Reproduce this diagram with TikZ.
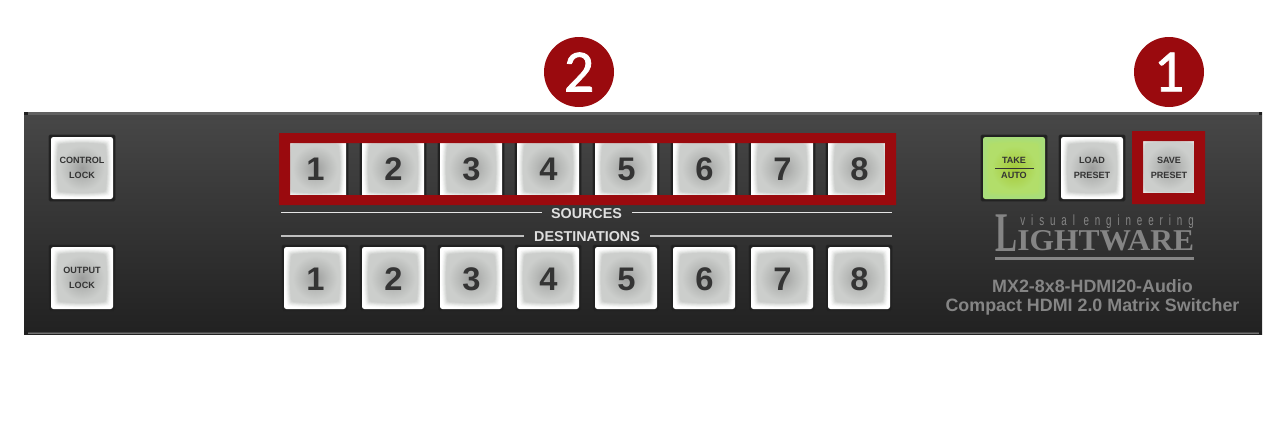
\documentclass[tikz,border=0pt]{standalone}
\usepackage{fontspec}
\setmainfont{Liberation Sans}
\newfontfamily\logoserif{Liberation Serif}
\newfontfamily\logosans[LetterSpace=60]{Liberation Sans}
\newfontfamily\badgefont[FakeBold=1.2]{Carlito}
\definecolor{lwred}{RGB}{154,10,14}
\definecolor{dkframe}{RGB}{32,32,32}
\definecolor{btntxt}{RGB}{52,52,52}
\definecolor{lwgray}{RGB}{133,133,133}
\definecolor{facegray}{RGB}{204,206,204}
\definecolor{facemid}{RGB}{184,186,184}
\definecolor{facecen}{RGB}{156,157,156}
\definecolor{facegreen}{RGB}{178,222,106}
\definecolor{midgreen}{RGB}{172,212,82}
\definecolor{cengreen}{RGB}{162,202,58}
\definecolor{halogreen}{RGB}{168,221,122}
\pgfdeclareradialshading{facegrayshade}{\pgfpointorigin}{color(0bp)=(facecen); color(12bp)=(facemid); color(22bp)=(facegray); color(50bp)=(facegray)}
\pgfdeclareradialshading{facegreenshade}{\pgfpointorigin}{color(0bp)=(cengreen); color(12bp)=(midgreen); color(22bp)=(facegreen); color(50bp)=(facegreen)}
\tikzset{
  x=0.75pt,y=-0.75pt,
  btnframe/.style={fill=dkframe,draw=black!85,line width=0.4pt},
  divider/.style={line width=1.3pt},
  digit/.style={font=\bfseries\fontsize{24.5}{24.5}\selectfont,text=btntxt,inner sep=0pt},
  captxt/.style={font=\bfseries\fontsize{6.8}{6.8}\selectfont,text=btntxt,inner sep=0pt},
  headtxt/.style={font=\bfseries\fontsize{10.75}{10.75}\selectfont,text=white!87!black,inner sep=0pt},
  modeltxt/.style={font=\bfseries\fontsize{13.4}{13.4}\selectfont,text=lwgray,inner sep=0pt},
  badge/.style={circle,fill=lwred,minimum size=52.5pt,inner sep=0pt,text=white,font=\badgefont\fontsize{45}{45}\selectfont},
  logopart/.style={inner sep=0pt,text=lwgray},
}
% squircle outline, half-size 24 px
\def\squircle{(-24,-21) .. controls (-25.5,-8) and (-25.5,8) .. (-24,21) .. controls (-23.8,23.2) and (-23.2,23.8) .. (-21,24)
  .. controls (-8,25.5) and (8,25.5) .. (21,24) .. controls (23.2,23.8) and (23.8,23.2) .. (24,21)
  .. controls (25.5,8) and (25.5,-8) .. (24,-21) .. controls (23.8,-23.2) and (23.2,-23.8) .. (21,-24)
  .. controls (8,-25.5) and (-8,-25.5) .. (-21,-24) .. controls (-23.2,-23.8) and (-23.8,-23.2) .. (-24,-21) -- cycle}
% #1 centre x, #2 centre y, #3 outer colour, #4 face colour, #5 face shading
\newcommand{\lwbutton}[5]{%
  \begin{scope}[shift={(#1,#2)}]
    \fill[btnframe,rounded corners=0.8pt] (-33,-33) rectangle (33,33);
    \fill[#3,rounded corners=1.8pt] (-31,-31) rectangle (31,31);
    \foreach \sc/\mx in {1.18/8,1.15/20,1.12/35,1.09/50,1.06/68,1.03/85}{
      \fill[#4!\mx!#3,scale=\sc] \squircle;
    }
    \shade[shading=#5] \squircle;
  \end{scope}}
\begin{document}
\begin{tikzpicture}
\useasboundingbox (0,0) rectangle (1286,443);
\fill[white] (0,0) rectangle (1286,443);
% panel
\shade[top color=black!72,bottom color=black!87] (24,112) rectangle (1262,334);
\fill[black!62] (24,112) rectangle (1262,114.5);
\fill[black!72] (24,331.5) rectangle (1262,334);
\fill[black!55] (24,333) rectangle (1262,334);
\foreach \cx/\cy in {24/112,1258.5/112,24/331,1258.5/331}{\fill[black!88] (\cx,\cy) rectangle ++(3.5,3);}
% side buttons
\lwbutton{82}{168}{white}{facegray}{facegrayshade}
\node[captxt] (ctl1) at (82,160.5) {CONTROL};
\node[captxt] (ctl2) at (82,175.5) {LOCK};
\lwbutton{82}{278}{white}{facegray}{facegrayshade}
\node[captxt] (out1) at (82,270.5) {OUTPUT};
\node[captxt] (out2) at (82,285.5) {LOCK};
% source and destination buttons
\foreach \bx/\bn in {315/1,393/2,471/3,548/4,626/5,704/6,782/7,859/8}{
  \lwbutton{\bx}{168}{white}{facegray}{facegrayshade}
  \node[digit] (src\bn) at (\bx+0.5,169.5) {\bn};
  \lwbutton{\bx}{278}{white}{facegray}{facegrayshade}
  \node[digit] (dst\bn) at (\bx+0.5,279) {\bn};
}
% red highlight of sources
\fill[lwred,even odd rule] (279,133) rectangle (896,205) (290,143) rectangle (885,195);
% dividers
\draw[divider,white!90!black] (281,212.5) -- (541.5,212.5);
\draw[divider,white!90!black] (632,212.5) -- (892,212.5);
\node[headtxt] (srchead) at (586.5,213.5) {SOURCES};
\draw[divider,white!75!black] (281,236) -- (524,236);
\draw[divider,white!75!black] (650,236) -- (892,236);
\node[headtxt] (dsthead) at (587,237) {DESTINATIONS};
% right buttons
\lwbutton{1014}{168}{halogreen}{facegreen}{facegreenshade}
\node[captxt] (take) at (1014,160.5) {TAKE};
\node[captxt] (auto) at (1014,175.5) {AUTO};
\draw[btntxt,line width=0.7pt] (995,168) -- (1034,168);
\lwbutton{1092}{168}{white}{facegray}{facegrayshade}
\node[captxt] (load1) at (1092,160.5) {LOAD};
\node[captxt] (load2) at (1092,175.5) {PRESET};
\lwbutton{1169}{167}{white}{facegray}{facegrayshade}
\fill[lwred,even odd rule] (1132,131) rectangle (1205,204) (1143,141) rectangle (1194,193);
\node[captxt] (save1) at (1169,160.5) {SAVE};
\node[captxt] (save2) at (1169,175.5) {PRESET};
% logo
\node[logopart,anchor=south west] (logoL) at (995,252) {\resizebox{16.5pt}{27.5pt}{\logoserif\bfseries L}};
\node[logopart,anchor=south west] (logoW) at (1017,251.5) {\resizebox{132.5pt}{15pt}{\logoserif\bfseries IGHTWARE}};
\node[logopart,anchor=north east] (logoS) at (1194,215) {\resizebox*{130pt}{10.3pt}{\logosans visual engineering}};
\fill[lwgray] (995,257) rectangle (1194,260);
% model text
\node[modeltxt] (model1) at (1092.5,286.5) {MX2-8x8-HDMI20-Audio};
\node[modeltxt] (model2) at (1092.5,307) {Compact HDMI 2.0 Matrix Switcher};
% badges
\node[badge] (badgeA) at (579,72) {2};
\node[badge] (badgeB) at (1169,72) {1};
\end{tikzpicture}
\end{document}
